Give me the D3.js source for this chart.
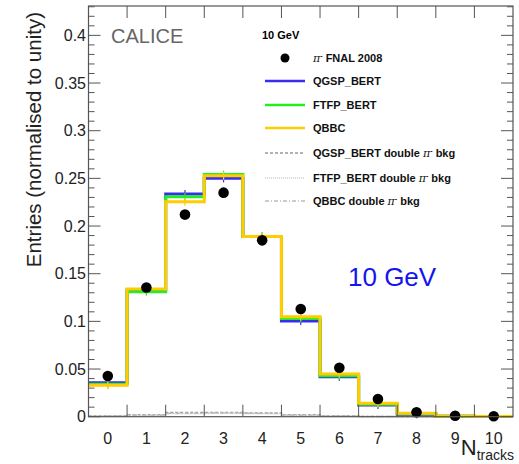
<!DOCTYPE html>
<html>
<head>
<meta charset="utf-8">
<script src="https://d3js.org/d3.v7.min.js"></script>
<style>
  body { margin: 0; background: #fff; }
  text { font-family: "Liberation Sans", Arial, Helvetica, sans-serif; }
</style>
</head>
<body>
<svg id="chart" width="519" height="464"></svg>
<script>
// bins: N_tracks 0..10
var bins = [0, 1, 2, 3, 4, 5, 6, 7, 8, 9, 10];
var dataFNAL = [0.0427, 0.1356, 0.212, 0.235, 0.185, 0.113, 0.0514, 0.0186, 0.0046, 0.001, 0.0004];
var qgspBert = [0.0355, 0.133, 0.2335, 0.250, 0.189, 0.1003, 0.042, 0.0123, 0.0025, 0.0005, 0.0002];
var ftfpBert = [0.034, 0.131, 0.2306, 0.254, 0.189, 0.103, 0.043, 0.013, 0.003, 0.0005, 0.0002];
var qbbc     = [0.033, 0.134, 0.2254, 0.2527, 0.189, 0.1048, 0.0448, 0.014, 0.0035, 0.0006, 0.0002];
var qgspBkg  = [0.001, 0.002, 0.0045, 0.0045, 0.004, 0.002, 0.001, 0.0003, 0.0001, 0, 0];
var ftfpBkg  = [0.0008, 0.0015, 0.003, 0.0035, 0.003, 0.0015, 0.0008, 0.0002, 0.0001, 0, 0];
var qbbcBkg  = [0.0008, 0.0015, 0.0035, 0.004, 0.0035, 0.0015, 0.0008, 0.0002, 0.0001, 0, 0];
var yTicks = [0, 0.05, 0.1, 0.15, 0.2, 0.25, 0.3, 0.35, 0.4];

(function () {
  var svg = d3.select("#chart");
  var m = {left: 88.5, right: 513, top: 6, bottom: 416.7};
  var x = d3.scaleLinear().domain([-0.5, 10.5]).range([m.left, m.right]);
  var y = d3.scaleLinear().domain([0, 0.4308]).range([m.bottom, m.top]);
  var frameColor = "#555";

  // histogram step path
  function stepPath(vals) {
    var p = d3.path();
    p.moveTo(x(-0.5), y(vals[0]));
    vals.forEach(function (v, i) {
      p.lineTo(x(i - 0.5), y(v));
      p.lineTo(x(i + 0.5), y(v));
    });
    return p.toString();
  }

  var plot = svg.append("g");

  // double pi bkg
  var bkgSeries = [
    {vals: qgspBkg, color: "#999", dash: "3,2"},
    {vals: ftfpBkg, color: "#ccc", dash: "1,1"},
    {vals: qbbcBkg, color: "#bbb", dash: "4,2,1,2"}
  ];
  bkgSeries.forEach(function (s) {
    plot.append("path").attr("d", stepPath(s.vals))
      .attr("fill", "none").attr("stroke", s.color).attr("stroke-width", 1.5)
      .attr("stroke-dasharray", s.dash);
  });

  var mcSeries = [
    {vals: qgspBert, color: "#3a2cf0"},
    {vals: ftfpBert, color: "#22ee22"},
    {vals: qbbc, color: "#ffcc00"}
  ];
  mcSeries.forEach(function (s) {
    plot.append("path").attr("d", stepPath(s.vals))
      .attr("fill", "none").attr("stroke", s.color).attr("stroke-width", 3);
    // small error bars
    plot.selectAll(null).data(s.vals).enter().append("line")
      .attr("x1", function (d, i) { return x(i); })
      .attr("x2", function (d, i) { return x(i); })
      .attr("y1", function (d) { return y(d) - 4; })
      .attr("y2", function (d) { return y(d) + 4; })
      .attr("stroke", s.color).attr("stroke-width", 1.2);
  });

  // data points
  plot.selectAll("circle.data").data(dataFNAL).enter().append("circle")
    .attr("class", "data")
    .attr("cx", function (d, i) { return x(bins[i]); })
    .attr("cy", function (d) { return y(d); })
    .attr("r", 5.3).attr("fill", "#000");

  // frame
  svg.append("rect").attr("x", m.left).attr("y", m.top)
    .attr("width", m.right - m.left).attr("height", m.bottom - m.top)
    .attr("fill", "none").attr("stroke", frameColor).attr("stroke-width", 1.2);

  // y ticks, both sides
  var minorTicks = d3.range(0, 0.4301, 0.01);
  [m.left, m.right].forEach(function (xx, k) {
    var dir = k === 0 ? 1 : -1;
    svg.selectAll(null).data(minorTicks).enter().append("line")
      .attr("x1", xx).attr("x2", function (d) {
        var major = Math.abs(d / 0.05 - Math.round(d / 0.05)) < 1e-6;
        return xx + dir * (major ? 12 : 6);
      })
      .attr("y1", function (d) { return y(d); }).attr("y2", function (d) { return y(d); })
      .attr("stroke", frameColor).attr("stroke-width", 1);
  });

  // x ticks at bin edges, bottom and top
  var xEdges = d3.range(0.5, 10.5, 1);
  [m.bottom, m.top].forEach(function (yy, k) {
    var dir = k === 0 ? -1 : 1;
    svg.selectAll(null).data(xEdges).enter().append("line")
      .attr("x1", function (d) { return x(d); }).attr("x2", function (d) { return x(d); })
      .attr("y1", yy).attr("y2", yy + dir * 12)
      .attr("stroke", frameColor).attr("stroke-width", 1);
  });

  // y tick labels
  svg.selectAll("text.ytick").data(yTicks).enter().append("text")
    .attr("class", "ytick")
    .attr("x", 86).attr("y", function (d) { return y(d); })
    .attr("dy", "0.36em").attr("text-anchor", "end")
    .attr("font-size", 16).attr("fill", "#222")
    .text(function (d) { return String(+d.toFixed(2)); });

  // x tick labels
  svg.selectAll("text.xtick").data(bins).enter().append("text")
    .attr("class", "xtick")
    .attr("x", function (d) { return x(d); }).attr("y", 444)
    .attr("text-anchor", "middle").attr("font-size", 16).attr("fill", "#222")
    .text(function (d) { return d; });

  // axis titles
  svg.append("text")
    .attr("transform", "translate(41,12) rotate(-90)")
    .attr("text-anchor", "end").attr("font-size", 20.5).attr("fill", "#222")
    .text("Entries (normalised to unity)");

  var xt = svg.append("text").attr("x", 514).attr("y", 455)
    .attr("text-anchor", "end").attr("fill", "#222");
  xt.append("tspan").attr("font-size", 22).text("N");
  xt.append("tspan").attr("font-size", 14).attr("dy", 5).text("tracks");

  // labels
  svg.append("text").attr("x", 111).attr("y", 43)
    .attr("font-size", 20).attr("fill", "#666").text("CALICE");
  svg.append("text").attr("x", 348).attr("y", 286)
    .attr("font-size", 26).attr("fill", "#1414f0").text("10 GeV");

  // legend
  var legend = svg.append("g");
  legend.append("text").attr("x", 262).attr("y", 39)
    .attr("font-size", 11).attr("font-weight", "bold").text("10 GeV");

  var legendItems = [
    {type: "dot", pre: true, label: " FNAL 2008", y: 58},
    {type: "line", color: "#3a2cf0", label: "QGSP_BERT", y: 81},
    {type: "line", color: "#22ee22", label: "FTFP_BERT", y: 105},
    {type: "line", color: "#ffcc00", label: "QBBC", y: 128},
    {type: "line", color: "#999", dash: "3,2", label: "QGSP_BERT double ", pi: true, y: 153},
    {type: "line", color: "#ccc", dash: "1,1", label: "FTFP_BERT double ", pi: true, y: 178},
    {type: "line", color: "#bbb", dash: "4,2,1,2", label: "QBBC double ", pi: true, y: 201}
  ];
  function addPi(t) {
    t.append("tspan").attr("font-weight", "normal").attr("font-style", "italic")
      .attr("font-family", "DejaVu Serif, serif").text("\u03c0");
    t.append("tspan").attr("font-size", 7).attr("dy", -4).text("-");
  }
  legendItems.forEach(function (it) {
    if (it.type === "dot") {
      legend.append("circle").attr("cx", 285).attr("cy", it.y).attr("r", 4.5).attr("fill", "#000");
    } else {
      legend.append("line").attr("x1", 265).attr("x2", 305)
        .attr("y1", it.y).attr("y2", it.y)
        .attr("stroke", it.color).attr("stroke-width", it.dash ? 1.5 : 2.5)
        .attr("stroke-dasharray", it.dash || null);
    }
    var t = legend.append("text").attr("x", 313).attr("y", it.y + 4)
      .attr("font-size", 11).attr("font-weight", "bold").attr("fill", "#111");
    if (it.pre) {
      addPi(t);
      t.append("tspan").attr("dy", 4).text(it.label);
    } else {
      t.append("tspan").text(it.label);
    }
    if (it.pi) {
      addPi(t);
      t.append("tspan").attr("dy", 4).text(" bkg");
    }
  });
})();
</script>
</body>
</html>
